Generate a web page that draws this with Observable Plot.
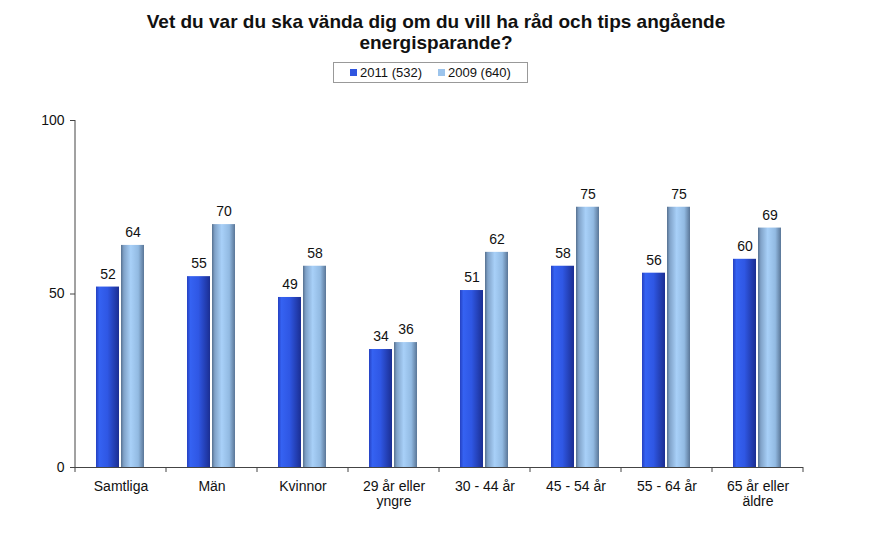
<!DOCTYPE html>
<html>
<head>
<meta charset="utf-8">
<script src="https://cdn.jsdelivr.net/npm/d3@7"></script>
<script src="https://cdn.jsdelivr.net/npm/@observablehq/plot@0.6"></script>
<style>
  body { margin: 0; background: #fff; font-family: "Liberation Sans", Arial, sans-serif; }
  #wrap { position: relative; width: 886px; height: 535px; overflow: hidden; }
  #title { position: absolute; top: 11px; left: 0; width: 872px; text-align: center; font-weight: bold; font-size: 19px; line-height: 21px; color: #111; }
  #legend { position: absolute; top: 62px; left: 333px; width: 193px; height: 19px; border: 1px solid #999; font-size: 13px; color: #111; display: flex; align-items: center; justify-content: center; gap: 16px; }
  #legend span.sw { display: inline-block; width: 7px; height: 7px; margin-right: 3px; vertical-align: 1px; }
  #chart { position: absolute; top: 90px; left: 0; }
</style>
</head>
<body>
<div id="wrap">
  <div id="title">Vet du var du ska vända dig om du vill ha råd och tips angående<br>energisparande?</div>
  <div id="legend"></div>
  <div id="chart"></div>
</div>
<script>
const categories = ["Samtliga", "Män", "Kvinnor", "29 år eller\nyngre", "30 - 44 år", "45 - 54 år", "55 - 64 år", "65 år eller\näldre"];
const seriesNames = ["2011 (532)", "2009 (640)"];
const seriesKeys = ["2011", "2009"];
const values2011 = [52, 55, 49, 34, 51, 58, 56, 60];
const values2009 = [64, 70, 58, 36, 62, 75, 75, 69];
const yTicks = [0, 50, 100];

const rows2011 = categories.map((c, i) => ({cat: c, s: "2011", v: values2011[i]}));
const rows2009 = categories.map((c, i) => ({cat: c, s: "2009", v: values2009[i]}));
const all = rows2011.concat(rows2009);

// legend
const legendColors = ["#2f55e0", "#9cc4ec"];
document.getElementById("legend").innerHTML = seriesNames.map((n, i) =>
  `<span><span class="sw" style="background:${legendColors[i]}"></span>${n}</span>`).join("");

const plot = Plot.plot({
  width: 886,
  height: 445,
  marginTop: 30,
  marginBottom: 68,
  marginLeft: 73,
  marginRight: 81,
  style: {fontFamily: "'Liberation Sans', Arial, sans-serif", fontSize: "14px", color: "#111", background: "transparent"},
  fx: {domain: categories, padding: 0, label: null},
  x: {domain: seriesKeys, paddingInner: 0.077, paddingOuter: 0.8, axis: null},
  y: {domain: [0, 100], label: null},
  marks: [
    Plot.axisY({ticks: yTicks, tickSize: 5, tickPadding: 6, label: null, stroke: "#444", fontSize: 14}),
    Plot.axisFx({anchor: "bottom", tickSize: 0, tickPadding: 13, label: null, fontSize: 14, lineHeight: 1.05}),
    Plot.barY(rows2011, {fx: "cat", x: "s", y: "v", fill: "url(#g2011)"}),
    Plot.barY(rows2009, {fx: "cat", x: "s", y: "v", fill: "url(#g2009)"}),
    Plot.text(all, {fx: "cat", x: "s", y: "v", text: d => String(d.v), dy: -13, fontSize: 14, fill: "#111"}),
    Plot.ruleY([0], {stroke: "#444"})
  ]
});
document.getElementById("chart").appendChild(plot);

// gradients and axis line / category boundary ticks from the library's scales
const svg = d3.select(plot);
const defs = svg.insert("defs", ":first-child");
function grad(id, stops) {
  const g = defs.append("linearGradient").attr("id", id).attr("x1", "0").attr("x2", "1").attr("y1", "0").attr("y2", "0");
  stops.forEach(([o, c]) => g.append("stop").attr("offset", o).attr("stop-color", c));
}
grad("g2011", [[0, "#2540c0"], [0.15, "#3562f2"], [0.5, "#2f57e4"], [1, "#1b2e92"]]);
grad("g2009", [[0, "#56708f"], [0.12, "#80a2c8"], [0.42, "#a8d0f8"], [0.75, "#92bae2"], [1, "#5a7697"]]);

const fx = plot.scale("fx");
const ys = plot.scale("y");
const y0 = ys.apply(0), y100 = ys.apply(100);
const xs = categories.map(c => fx.apply(c));
xs.push(xs[xs.length - 1] + fx.bandwidth);
const g = svg.append("g").attr("stroke", "#444");
g.append("line").attr("x1", xs[0]).attr("x2", xs[0]).attr("y1", y100).attr("y2", y0);
xs.forEach(x => g.append("line").attr("x1", x).attr("x2", x).attr("y1", y0).attr("y2", y0 + 5));
</script>
</body>
</html>
